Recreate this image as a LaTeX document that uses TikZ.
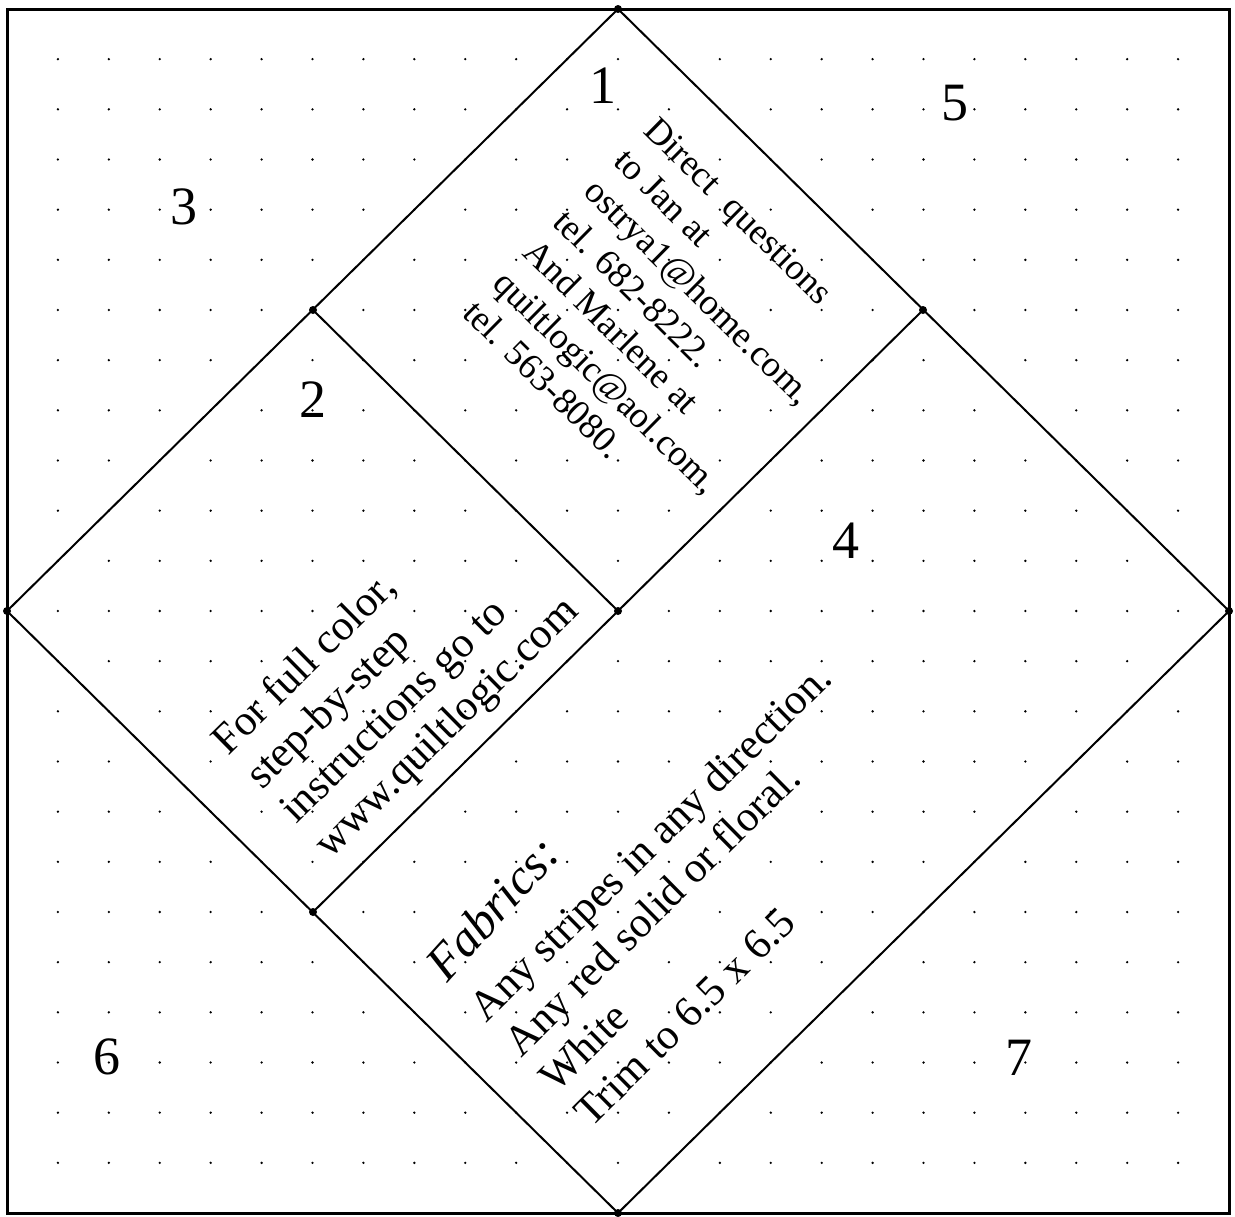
\documentclass[tikz,border=0pt]{standalone}
\usepackage{fontspec}
\setmainfont{Liberation Serif}
\begin{document}
\begin{tikzpicture}[x=0.5pt,y=-0.5pt,
  framestyle/.style={line width=1.5pt},
  foldstyle/.style={line width=1pt},
  numstyle/.style={font=\fontsize{27}{27}\selectfont, inner sep=0pt},
  tone/.style={font=\fontsize{18.3}{21}\selectfont, rotate=-44.6, anchor=base west, inner sep=0pt},
  ttwo/.style={font=\fontsize{21.5}{24}\selectfont, rotate=44.6, anchor=base west, inner sep=0pt},
  tthree/.style={font=\fontsize{21.5}{25}\selectfont, rotate=44.6, anchor=base west, inner sep=0pt},
  fabstyle/.style={font=\fontsize{25}{25}\selectfont\itshape, rotate=48, inner sep=0pt}]
\useasboundingbox (0,0) rectangle (1235,1216);
% dot grid
\foreach \i in {1,...,23} {
  \foreach \j in {1,...,23} {
    \fill ({7+50.917*\i},{9+50.167*\j}) circle (0.65pt);
  }
}
% frame
\coordinate (F1) at (7,9);
\coordinate (F2) at (1229,1213);
\draw[framestyle] (F1) rectangle (F2);
% fold vertices
\coordinate (T) at (618,9);
\coordinate (R) at (1229,611);
\coordinate (B) at (618,1213);
\coordinate (L) at (7,611);
\coordinate (UL) at (313,310);
\coordinate (UR) at (923,310);
\coordinate (C) at (618,611);
\coordinate (LL) at (313,912);
\draw[foldstyle] (T) -- (R) -- (B) -- (L) -- cycle;
\draw[foldstyle] (UL) -- (C);
\draw[foldstyle] (UR) -- (LL);
\foreach \p in {T,R,B,L,UL,UR,C,LL} \fill (\p) circle (2pt);
% numbers
\node[numstyle] (n1) at (603,86) {1};
\node[numstyle] (n5) at (955,103) {5};
\node[numstyle] (n3) at (184,207) {3};
\node[numstyle] (n2) at (313,400) {2};
\node[numstyle] (n4) at (846,541) {4};
\node[numstyle] (n6) at (107,1057) {6};
\node[numstyle] (n7) at (1019,1058) {7};
% block 1
\node[tone] (a1) at (642,132) {Direct\ \ questions};
\node[tone] (a2) at (612,163) {to Jan at};
\node[tone] (a3) at (582,193) {ostrya1@home.com,};
\node[tone] (a4) at (551,224) {tel. 682-8222.};
\node[tone] (a5) at (521,254) {And Marlene at};
\node[tone] (a6) at (491,285) {quiltlogic@aol.com,};
\node[tone] (a7) at (461,315) {tel. 563-8080.};
% block 2
\node[ttwo] (b1) at (228,757) {For full color,};
\node[ttwo] (b2) at (262,791) {step-by-step};
\node[ttwo] (b3) at (296,825) {instructions go to};
\node[ttwo] (b4) at (330,860) {www.quiltlogic.com};
% block 3
\node[fabstyle] (fab) at (492,908) {Fabrics:};
\node[tthree] (c1) at (486,1024) {Any stripes in any direction.};
\node[tthree] (c2) at (521,1059) {Any red solid or floral.};
\node[tthree] (c3) at (556,1094) {White};
\node[tthree] (c4) at (591,1129) {Trim to 6.5 x 6.5};
\end{tikzpicture}
\end{document}
